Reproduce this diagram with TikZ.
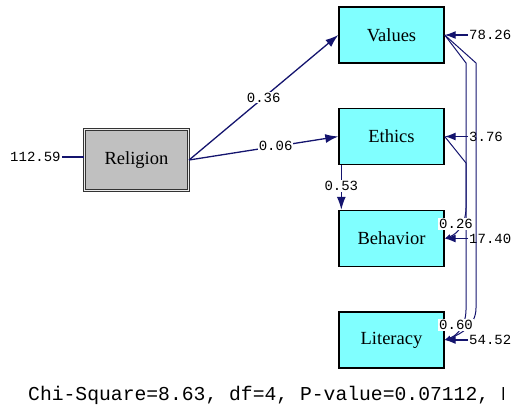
\documentclass[tikz,border=0pt]{standalone}
\usepackage{fontspec}
\setmainfont{Liberation Serif}
\setmonofont{Liberation Mono}
\usetikzlibrary{arrows.meta}
\definecolor{pathblue}{RGB}{20,20,110}
\definecolor{boxcyan}{RGB}{128,255,255}
\definecolor{boxgray}{RGB}{192,192,192}

\begin{document}
\begin{tikzpicture}[x=1pt, y=-1pt,
  obs/.style={draw=black, line width=1.4pt, fill=boxcyan, minimum width=105pt,
    minimum height=56pt, font=\fontsize{18.5}{20}\selectfont},
  exo/.style={obs, fill=boxgray, draw=black!80, line width=1.1pt, double=white!85!gray,
    double distance=0.6pt, minimum width=104pt, minimum height=61pt},
  est/.style={font=\ttfamily\fontsize{14}{16}\selectfont, inner sep=1pt},
  lbl/.style={est, fill=white},
  reg/.style={draw=pathblue, line width=1.3pt, -{Latex[length=13pt,width=9pt]}},
  err/.style={draw=pathblue, line width=1.3pt, -{Latex[length=11pt,width=8pt]}},
  cov/.style={draw=pathblue, line width=1pt, -{Latex[length=6pt,width=5pt]}}]
  \useasboundingbox (0,0) rectangle (513,407);
  \clip (0,0) rectangle (513,407);

  \node[exo] (rel) at (136.5,160) {Religion};
  \node[obs] (val) at (391.5,35) {Values};
  \node[obs] (eth) at (391.5,136.5) {Ethics};
  \node[obs] (beh) at (391.5,238.5) {Behavior};
  \node[obs] (lit) at (391.5,340) {Literacy};

  % error terms
  \node[est, anchor=west] (e0) at (9,157) {112.59};
  \node[est, anchor=west] (e1) at (468,35) {78.26};
  \node[est, anchor=west] (e2) at (468,136.5) {3.76};
  \node[est, anchor=west] (e3) at (468,238.5) {17.40};
  \node[est, anchor=west] (e4) at (468,340) {54.52};

  \draw[draw=pathblue, line width=1.2pt] (e0.east) -- (rel.west |- e0.east);
  \draw[err] (e1) -- (val);
  \draw[err] (e2) -- (eth);
  \draw[err] (e3) -- (beh);
  \draw[err] (e4) -- (lit);

  % paths
  \draw[reg] (rel.east) -- (val.west) node[lbl, pos=0.5] (b1) {0.36};
  \draw[reg] (rel.east) -- (eth.west) node[lbl, pos=0.58] (b2) {0.06};
  \draw[reg] ([xshift=3pt]eth.south west) -- ([xshift=3pt]beh.north west)
    node[lbl, pos=0.47] (b3) {0.53};

  % covariances
  \draw[cov] (val.east) -- (476,63) -- (476,308) to[out=-90, in=20] (lit.east);
  \draw[cov] (val.east) -- (466,63) -- (466,310) to[out=-90, in=20] (lit.east);
  \draw[cov] (eth.east) -- (466,163) -- (466,208) to[out=-90, in=20] (beh.east);
  \node[lbl] (c1) at (456,224) {0.26};
  \node[lbl] (c2) at (456,325) {0.60};

  \begin{scope}
    \clip (0,370) rectangle (503,407);
    \node[anchor=west, inner sep=0pt, font=\ttfamily\fontsize{19.7}{22}\selectfont] (fit)
      at (28,395) {Chi-Square=8.63, df=4, P-value=0.07112, R};
  \end{scope}
\end{tikzpicture}
\end{document}
